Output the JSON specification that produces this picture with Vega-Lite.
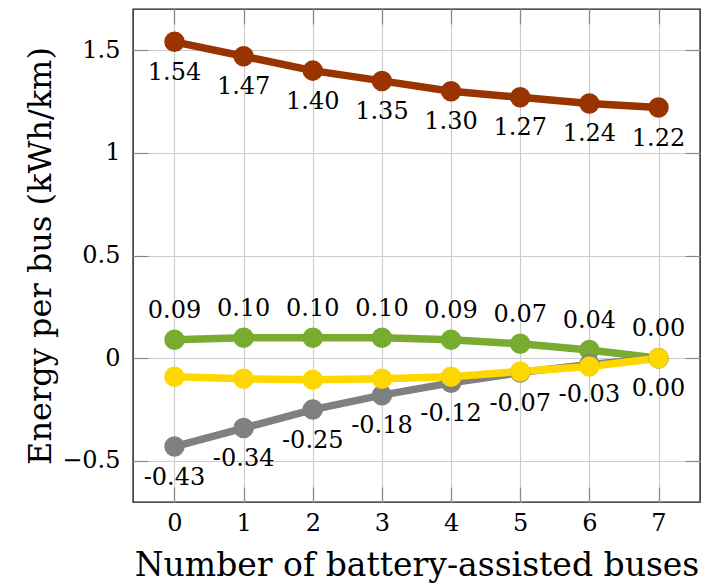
{
  "$schema": "https://vega.github.io/schema/vega-lite/v6.json",
  "width": 567,
  "height": 493,
  "autosize": "none",
  "padding": {"left": 133, "top": 9, "right": 7, "bottom": 83},
  "config": {
    "font": "DejaVu Serif",
    "view": {"stroke": "#1a1a1a", "strokeWidth": 1.4}
  },
  "data": {
    "values": [
      {"buses": 0, "energy": 1.54, "series": "S1"},
      {"buses": 1, "energy": 1.47, "series": "S1"},
      {"buses": 2, "energy": 1.40, "series": "S1"},
      {"buses": 3, "energy": 1.35, "series": "S1"},
      {"buses": 4, "energy": 1.30, "series": "S1"},
      {"buses": 5, "energy": 1.27, "series": "S1"},
      {"buses": 6, "energy": 1.24, "series": "S1"},
      {"buses": 7, "energy": 1.22, "series": "S1"},
      {"buses": 0, "energy": 0.09, "series": "S2"},
      {"buses": 1, "energy": 0.10, "series": "S2"},
      {"buses": 2, "energy": 0.10, "series": "S2"},
      {"buses": 3, "energy": 0.10, "series": "S2"},
      {"buses": 4, "energy": 0.09, "series": "S2"},
      {"buses": 5, "energy": 0.07, "series": "S2"},
      {"buses": 6, "energy": 0.04, "series": "S2"},
      {"buses": 7, "energy": 0.00, "series": "S2"},
      {"buses": 0, "energy": -0.43, "series": "S3"},
      {"buses": 1, "energy": -0.34, "series": "S3"},
      {"buses": 2, "energy": -0.25, "series": "S3"},
      {"buses": 3, "energy": -0.18, "series": "S3"},
      {"buses": 4, "energy": -0.12, "series": "S3"},
      {"buses": 5, "energy": -0.07, "series": "S3"},
      {"buses": 6, "energy": -0.03, "series": "S3"},
      {"buses": 7, "energy": 0.00, "series": "S3"},
      {"buses": 0, "energy": -0.09, "series": "S4"},
      {"buses": 1, "energy": -0.10, "series": "S4"},
      {"buses": 2, "energy": -0.105, "series": "S4"},
      {"buses": 3, "energy": -0.10, "series": "S4"},
      {"buses": 4, "energy": -0.09, "series": "S4"},
      {"buses": 5, "energy": -0.065, "series": "S4"},
      {"buses": 6, "energy": -0.04, "series": "S4"},
      {"buses": 7, "energy": 0.00, "series": "S4"}
    ]
  },
  "encoding": {
    "x": {"field": "buses", "type": "quantitative", "axis": null,
          "scale": {"domain": [-0.6, 7.6], "nice": false, "zero": false}},
    "y": {"field": "energy", "type": "quantitative", "axis": null,
          "scale": {"domain": [-0.7, 1.7], "nice": false, "zero": false}},
    "color": {
      "field": "series", "type": "nominal", "legend": null,
      "scale": {"domain": ["S1", "S2", "S3", "S4"],
                "range": ["#993300", "#77ac30", "#808080", "#ffd700"]}
    }
  },
  "layer": [
    {
      "mark": {"type": "line", "strokeWidth": 7.5},
      "encoding": {
        "x": {
          "field": "buses", "type": "quantitative",
          "scale": {"domain": [-0.6, 7.6], "nice": false, "zero": false},
          "axis": {
            "orient": "bottom", "values": [0, 1, 2, 3, 4, 5, 6, 7], "format": "d",
            "grid": true, "gridColor": "#cccccc", "gridWidth": 1.2,
            "domain": false, "tickSize": -15, "tickColor": "#888888", "tickWidth": 1.2,
            "labelFontSize": 24, "labelColor": "#000000", "labelPadding": 24,
            "title": "Number of battery-assisted buses", "titleFontSize": 33,
            "titleFontWeight": "normal", "titleColor": "#000000",
            "titleBaseline": "alphabetic", "titleY": 73
          }
        },
        "y": {
          "field": "energy", "type": "quantitative",
          "scale": {"domain": [-0.7, 1.7], "nice": false, "zero": false},
          "axis": {
            "orient": "left", "values": [-0.5, 0, 0.5, 1, 1.5], "format": "~g",
            "grid": true, "gridColor": "#cccccc", "gridWidth": 1.2,
            "domain": false, "tickSize": -15, "tickColor": "#888888", "tickWidth": 1.2,
            "labelFontSize": 24, "labelColor": "#000000", "labelPadding": 28,
            "title": "Energy per bus (kWh/km)", "titleFontSize": 32,
            "titleFontWeight": "normal", "titleColor": "#000000",
            "titleBaseline": "alphabetic", "titleX": -83, "titleY": 246.5
          }
        }
      }
    },
    {
      "mark": {"type": "point", "filled": true, "opacity": 1, "size": 420},
      "encoding": {
        "x": {
          "field": "buses", "type": "quantitative",
          "scale": {"domain": [-0.6, 7.6], "nice": false, "zero": false},
          "axis": {
            "orient": "top", "values": [0, 1, 2, 3, 4, 5, 6, 7], "grid": false,
            "domain": false, "labels": false, "title": null,
            "tickSize": -15, "tickColor": "#888888", "tickWidth": 1.2
          }
        },
        "y": {
          "field": "energy", "type": "quantitative",
          "scale": {"domain": [-0.7, 1.7], "nice": false, "zero": false},
          "axis": {
            "orient": "right", "values": [-0.5, 0, 0.5, 1, 1.5], "grid": false,
            "domain": false, "labels": false, "title": null,
            "tickSize": -15, "tickColor": "#888888", "tickWidth": 1.2
          }
        }
      }
    },
    {
      "transform": [
        {"filter": {"field": "series", "oneOf": ["S1", "S3"]}},
        {"calculate": "replace(format(datum.energy, '.2f'), '\u2212', '-')", "as": "label"}
      ],
      "mark": {"type": "text", "fontSize": 24, "dy": 31, "baseline": "middle", "align": "center", "color": "#000000"},
      "encoding": {"text": {"field": "label"}, "color": {"value": "#000000"}}
    },
    {
      "transform": [
        {"filter": {"field": "series", "equal": "S2"}},
        {"calculate": "replace(format(datum.energy, '.2f'), '\u2212', '-')", "as": "label"}
      ],
      "mark": {"type": "text", "fontSize": 24, "dy": -29, "baseline": "middle", "align": "center", "color": "#000000"},
      "encoding": {"text": {"field": "label"}, "color": {"value": "#000000"}}
    }
  ],
  "resolve": {"axis": {"x": "independent", "y": "independent"}}
}
